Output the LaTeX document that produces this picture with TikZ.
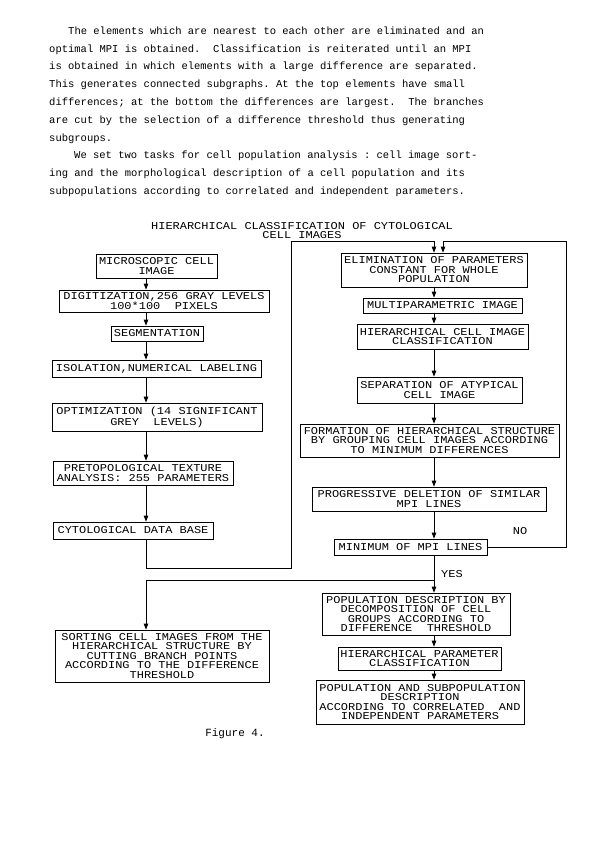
\documentclass[tikz,border=0pt]{standalone}
\usepackage{fontspec}
\setmainfont{Liberation Mono}
\newfontfamily\boxfamily[FakeStretch=1.14]{Liberation Mono}
\usepackage{tikz}
\usetikzlibrary{
    arrows.meta,
    shadows,
}
\newcommand{\boxfont}{\boxfamily\fontsize{10.5}{9.5}\selectfont}
\newcommand{\parafont}{\fontsize{10.5}{17.8}\selectfont}
\tikzset{
    % Block styles
    box/.style={rectangle, draw, line width=0.8pt, inner sep=0pt, align=center,
                fill=white, font=\boxfont,
                drop shadow={shadow xshift=0.9pt, shadow yshift=-0.9pt, fill=black, opacity=1}},
    % Arrow styles
    arrow/.style={-{Triangle[length=6pt, width=4.5pt]}, line width=0.8pt},
    % Annotation styles
    annot/.style={font=\boxfont, inner sep=0pt},
    para/.style={font=\parafont, inner sep=0pt, align=left},
}
\frenchspacing

\begin{document}
\begin{tikzpicture}[x=1pt, y=-1pt]
    \path[fill=white, use as bounding box] (0,0) rectangle (595,842);

    % Text above the figure
    \node[para, anchor=north west] (body) at (49,26.5) {%
        \hspace*{19pt}The elements which are nearest to each other are eliminated and an\\
        optimal MPI is obtained.~ Classification is reiterated until an MPI\\
        is obtained in which elements with a large difference are separated.\\
        This generates connected subgraphs. At the top elements have small\\
        differences; at the bottom the differences are largest.~ The branches\\
        are cut by the selection of a difference threshold thus generating\\
        subgroups.\\
        \hspace*{25pt}We set two tasks for cell population analysis : cell image sort-\\
        ing and the morphological description of a cell population and its\\
        subpopulations according to correlated and independent parameters.};

    % Title
    \node[annot, align=center] (title) at (302,230.5)
        {HIERARCHICAL CLASSIFICATION OF CYTOLOGICAL\\CELL IMAGES};

    % Spines
    \coordinate (lspine) at (146,0);
    \coordinate (rspine) at (434,0);
    \coordinate (rin) at (443,0);

    % Left column boxes
    \node[box, minimum width=121pt, minimum height=24pt] (micro) at (156.5,266) {MICROSCOPIC CELL\\IMAGE};
    \node[box, minimum width=210pt, minimum height=22pt] (digit) at (164,301) {DIGITIZATION,256 GRAY LEVELS\\100*100~ PIXELS};
    \node[box, minimum width=92pt, minimum height=15pt] (segm) at (157,333.5) {SEGMENTATION};
    \node[box, minimum width=209pt, minimum height=17pt] (isol) at (156.5,368.5) {ISOLATION,NUMERICAL LABELING};
    \node[box, minimum width=210pt, minimum height=28pt] (optim) at (157,417) {OPTIMIZATION (14 SIGNIFICANT\\GREY~ LEVELS)};
    \node[box, minimum width=180pt, minimum height=24pt] (preto) at (143,473) {PRETOPOLOGICAL TEXTURE\\ANALYSIS: 255 PARAMETERS};
    \node[box, minimum width=160pt, minimum height=17pt] (cytdb) at (133,530.5) {CYTOLOGICAL DATA BASE};
    \node[box, minimum width=214pt, minimum height=52pt] (sort) at (162,656) {SORTING CELL IMAGES FROM THE\\HIERARCHICAL STRUCTURE BY\\CUTTING BRANCH POINTS\\ACCORDING TO THE DIFFERENCE\\THRESHOLD};

    % Right column boxes
    \node[box, minimum width=186pt, minimum height=34pt] (elim) at (434,270) {ELIMINATION OF PARAMETERS\\CONSTANT FOR WHOLE\\POPULATION};
    \node[box, minimum width=159pt, minimum height=15pt] (multi) at (442.5,305.5) {MULTIPARAMETRIC IMAGE};
    \node[box, minimum width=171pt, minimum height=25pt] (hcls) at (442.5,336.5) {HIERARCHICAL CELL IMAGE\\CLASSIFICATION};
    \node[box, minimum width=165pt, minimum height=26pt] (separ) at (439.5,390) {SEPARATION OF ATYPICAL\\CELL IMAGE};
    \node[box, minimum width=259pt, minimum height=33pt] (form) at (429.5,440.5) {FORMATION OF HIERARCHICAL STRUCTURE\\BY GROUPING CELL IMAGES ACCORDING\\TO MINIMUM DIFFERENCES};
    \node[box, minimum width=234pt, minimum height=24pt] (prog) at (429,499) {PROGRESSIVE DELETION OF SIMILAR\\MPI LINES};
    \node[box, minimum width=153pt, minimum height=16pt] (mini) at (410.5,547) {MINIMUM OF MPI LINES};
    \node[box, minimum width=188pt, minimum height=42pt] (popd) at (416,614) {POPULATION DESCRIPTION BY\\DECOMPOSITION OF CELL\\GROUPS ACCORDING TO\\DIFFERENCE~ THRESHOLD};
    \node[box, minimum width=163pt, minimum height=23pt] (hpar) at (419.5,658.5) {HIERARCHICAL PARAMETER\\CLASSIFICATION};
    \node[box, minimum width=208pt, minimum height=44pt] (popsub) at (420,702) {POPULATION AND SUBPOPULATION\\DESCRIPTION\\ACCORDING TO CORRELATED~ AND\\INDEPENDENT PARAMETERS};

    % Arrows, left column
    \draw[arrow] (micro.south -| lspine) -- (digit.north -| lspine);
    \draw[arrow] (digit.south -| lspine) -- (segm.north -| lspine);
    \draw[arrow] (segm.south -| lspine) -- (isol.north -| lspine);
    \draw[arrow] (isol.south -| lspine) -- (optim.north -| lspine);
    \draw[arrow] (optim.south -| lspine) -- (preto.north -| lspine);
    \draw[arrow] (preto.south -| lspine) -- (cytdb.north -| lspine);

    % Arrows, right column
    \draw[arrow] (elim.south -| rspine) -- (multi.north -| rspine);
    \draw[arrow] (multi.south -| rspine) -- (hcls.north -| rspine);
    \draw[arrow] (hcls.south -| rspine) -- (separ.north -| rspine);
    \draw[arrow] (separ.south -| rspine) -- (form.north -| rspine);
    \draw[arrow] (form.south -| rspine) -- (prog.north -| rspine);
    \draw[arrow] (prog.south -| rspine) -- (mini.north -| rspine);
    \draw[arrow] (mini.south -| rspine) -- (popd.north -| rspine);
    \draw[arrow] (popd.south -| rspine) -- (hpar.north -| rspine);
    \draw[arrow] (hpar.south -| rspine) -- (popsub.north -| rspine);

    % Loops back to the top
    \coordinate (loopA) at (291,568);
    \coordinate (loopB) at (291,241);
    \coordinate (loopC) at (566,241);
    \draw[arrow] (cytdb.south -| lspine) |- (loopA) -- (loopB) -| (elim.north -| rspine);
    \draw[arrow] (mini.east) -| (loopC) -| (elim.north -| rin);

    % YES branch to sorting
    \coordinate (split) at (434,580);
    \draw[arrow] (split) -| (sort.north -| lspine);

    % Labels
    \node[annot] (no) at (520,531) {NO};
    \node[annot] (yes) at (452,574) {YES};
    \node[annot, font=\fontsize{11}{11}\selectfont] (fig) at (235,734) {Figure 4.};
\end{tikzpicture}
\end{document}
